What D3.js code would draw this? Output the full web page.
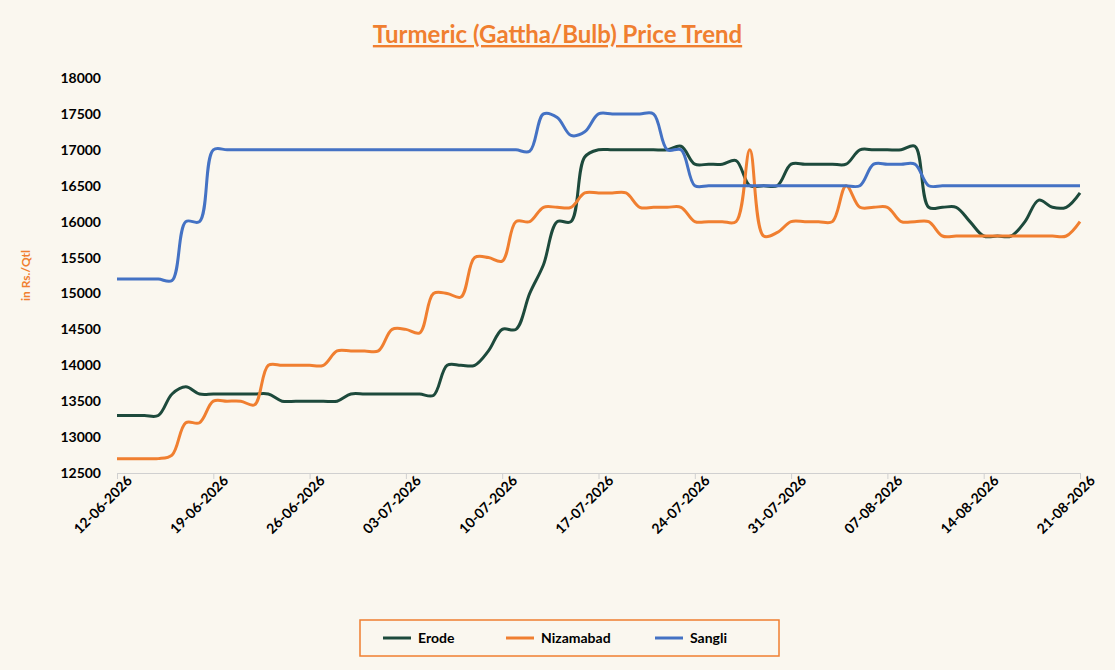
<!DOCTYPE html>
<html>
<head>
<meta charset="utf-8">
<script src="https://cdn.jsdelivr.net/npm/d3@7"></script>
<style>
  body { margin: 0; background: #faf7ef; font-family: Lato, "Open Sans", sans-serif; }
  svg text { font-family: Lato, "Open Sans", sans-serif; }
</style>
</head>
<body>
<div id="chart"></div>
<script>
// daily dates, 12-06-2026 .. 21-08-2026
const dates = ["12-06-2026","13-06-2026","14-06-2026","15-06-2026","16-06-2026","17-06-2026","18-06-2026","19-06-2026","20-06-2026","21-06-2026",
  "22-06-2026","23-06-2026","24-06-2026","25-06-2026","26-06-2026","27-06-2026","28-06-2026","29-06-2026","30-06-2026","01-07-2026",
  "02-07-2026","03-07-2026","04-07-2026","05-07-2026","06-07-2026","07-07-2026","08-07-2026","09-07-2026","10-07-2026","11-07-2026",
  "12-07-2026","13-07-2026","14-07-2026","15-07-2026","16-07-2026","17-07-2026","18-07-2026","19-07-2026","20-07-2026","21-07-2026",
  "22-07-2026","23-07-2026","24-07-2026","25-07-2026","26-07-2026","27-07-2026","28-07-2026","29-07-2026","30-07-2026","31-07-2026",
  "01-08-2026","02-08-2026","03-08-2026","04-08-2026","05-08-2026","06-08-2026","07-08-2026","08-08-2026","09-08-2026","10-08-2026",
  "11-08-2026","12-08-2026","13-08-2026","14-08-2026","15-08-2026","16-08-2026","17-08-2026","18-08-2026","19-08-2026","20-08-2026",
  "21-08-2026"]

const erode = [13300,13300,13300,13300, 13600,13700,13600, 13600,13600,13600,13600,13600,
  13500,13500,13500,13500,13500, 13600,13600,13600,13600,13600,13600, 13580,
  14000,14000,14000,14200, 14500,14500,15000,15400, 16000,16000,16900,
  17000,17000,17000,17000,17000,17000,17050, 16800,16800,16800,16850, 16500,16500,16500,
  16800,16800,16800,16800,16800, 17000,17000,17000,17000, 17050, 16200,16200,16200, 16000,
  15800,15800,15800, 16000,16300,16200,16200,16400]

const nizamabad = [12700,12700,12700,12700, 12750,13200,13200, 13500,13500,13500,13450,
  14000,14000,14000,14000,14000, 14200,14200,14200,14200, 14500,14500,14450,
  15000,15000,14950, 15500,15500,15450, 16000,16000,16200, 16200,16200,
  16400,16400,16400,16400, 16200,16200,16200,16200, 16000,16000,16000,16000, 17000,
  15800,15850, 16000,16000,16000,16000, 16500, 16200,16200,16200, 16000,16000,16000,
  15800,15800,15800,15800,15800,15800,15800,15800,15800,15800, 16000]

const sangli = [15200,15200,15200,15200, 15180, 16000,16000,
  17000,17000,17000,17000,17000,17000,17000,17000,17000,17000,17000,17000,17000,17000,17000,17000,17000,17000,17000,17000,17000,17000,17000,
  16980, 17500, 17450, 17200, 17250, 17500,17500,17500,17500,17500, 17000,17000,
  16500,16500,16500,16500,16500,16500,16500,16500,16500,16500,16500,16500,16500,
  16800,16800,16800,16800,
  16500,16500,16500,16500,16500,16500,16500,16500,16500,16500,16500,16500]

const tickLabels = ["12-06-2026","19-06-2026","26-06-2026","03-07-2026","10-07-2026","17-07-2026",
  "24-07-2026","31-07-2026","07-08-2026","14-08-2026","21-08-2026"]
const yTicks = [12500,13000,13500,14000,14500,15000,15500,16000,16500,17000,17500,18000]

const seriesNames = ["Erode", "Nizamabad", "Sangli"]
const seriesColors = ["#1d4a3c", "#f07f30", "#4472c4"]
const seriesValues = [erode, nizamabad, sangli]

const W = 1115, H = 670
const margin = { top: 78, right: 35, bottom: 197, left: 117 }
const width = W - margin.left - margin.right
const height = H - margin.top - margin.bottom

const parse = d3.timeParse("%d-%m-%Y")

var svg = d3.select('#chart').append('svg')
  .attr('width', W).attr('height', H)
svg.append('rect').attr('width', W).attr('height', H).attr('fill', '#faf7ef')

// TITLE
svg.append('text')
  .attr('x', W / 2).attr('y', 43)
  .attr('text-anchor', 'middle')
  .attr('font-size', 24).attr('font-weight', 'bold')
  .attr('fill', '#f07f30')
  .attr('text-decoration', 'underline')
  .text('Turmeric (Gattha/Bulb) Price Trend')

var g = svg.append('g').attr('transform', 'translate(' + margin.left + ',' + margin.top + ')')

var x = d3.scaleTime().domain([parse(dates[0]), parse(dates[dates.length - 1])]).range([0, width])
var y = d3.scaleLinear().domain([12500, 18000]).range([height, 0])

// Y-AXIS
var yAxis = g.append('g').call(d3.axisLeft(y).tickValues(yTicks).tickFormat(d3.format('d')).tickSize(0).tickPadding(16))
yAxis.select('.domain').remove()
yAxis.selectAll('text').attr('font-size', 14).attr('font-weight', 'bold').attr('fill', '#000')

// X-AXIS
var xAxis = g.append('g')
  .attr('transform', 'translate(0,' + height + ')')
  .call(d3.axisBottom(x).tickValues(tickLabels.map(parse)).tickFormat(d3.timeFormat('%d-%m-%Y')).tickSize(6))
xAxis.select('.domain').attr('stroke', '#d0d0d0')
xAxis.selectAll('.tick line').attr('stroke', '#d0d0d0')
xAxis.selectAll('text')
  .attr('font-size', 14).attr('font-weight', 'bold').attr('fill', '#000')
  .style('text-anchor', 'end')
  .attr('dx', '5').attr('dy', '8')
  .attr('transform', 'rotate(-45)')

// Y-AXIS LABEL
svg.append('text')
  .attr('transform', 'translate(30,' + (margin.top + height / 2) + ') rotate(-90)')
  .attr('text-anchor', 'middle')
  .attr('font-size', 12).attr('font-weight', 'bold')
  .attr('fill', '#f07f30')
  .text('in Rs./Qtl')

// LINES
var line = d3.line()
  .x(function(d, i) { return x(parse(dates[i])) })
  .y(function(d) { return y(d) })
  .curve(d3.curveCatmullRom.alpha(0.5))

seriesValues.forEach(function(vals, k) {
  g.append('path')
    .datum(vals)
    .attr('fill', 'none')
    .attr('stroke', seriesColors[k])
    .attr('stroke-width', 3)
    .attr('d', line)
})

// LEGEND
var legend = svg.append('g').attr('transform', 'translate(360,620)')
legend.append('rect').attr('width', 419).attr('height', 36)
  .attr('fill', 'none').attr('stroke', '#f07f30').attr('stroke-width', 1.5)
var lx = [23, 146, 295]
seriesNames.forEach(function(name, k) {
  legend.append('line')
    .attr('x1', lx[k]).attr('x2', lx[k] + 28).attr('y1', 18).attr('y2', 18)
    .attr('stroke', seriesColors[k]).attr('stroke-width', 3)
  legend.append('text')
    .attr('x', lx[k] + 35).attr('y', 23)
    .attr('font-size', 14).attr('font-weight', 'bold').attr('fill', '#000')
    .text(name)
})
</script>
</body>
</html>
